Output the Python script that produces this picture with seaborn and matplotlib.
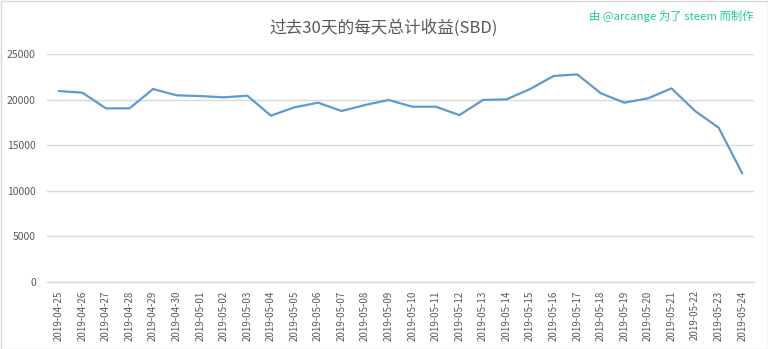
import matplotlib
matplotlib.use("Agg")
import matplotlib.pyplot as plt
import seaborn as sns
import pandas as pd
from matplotlib.patches import Rectangle

dates = ["2019-04-25", "2019-04-26", "2019-04-27", "2019-04-28", "2019-04-29", "2019-04-30",
         "2019-05-01", "2019-05-02", "2019-05-03", "2019-05-04", "2019-05-05", "2019-05-06",
         "2019-05-07", "2019-05-08", "2019-05-09", "2019-05-10", "2019-05-11", "2019-05-12",
         "2019-05-13", "2019-05-14", "2019-05-15", "2019-05-16", "2019-05-17", "2019-05-18",
         "2019-05-19", "2019-05-20", "2019-05-21", "2019-05-22", "2019-05-23", "2019-05-24"]
sbd = [20940, 20760, 19040, 19040, 21160, 20470,
       20390, 20250, 20430, 18240, 19150, 19660,
       18750, 19410, 19960, 19220, 19220, 18300,
       19960, 20030, 21160, 22590, 22770, 20690,
       19660, 20140, 21230, 18750, 16920, 11920]
yticks = [0, 5000, 10000, 15000, 20000, 25000]

title = "过去30天的每天总计收益(SBD)"
credit = "由 @arcange 为了 steem 而制作"

sns.set_theme(style="white")
plt.rcParams['font.family'] = ['Noto Sans CJK SC', 'DejaVu Sans']

df = pd.DataFrame({"date": dates, "sbd": sbd})
df["idx"] = range(len(dates))

fig = plt.figure(figsize=(7.68, 3.49), dpi=100)
ax = fig.add_axes([47/768, 1-282/349, (754-47)/768, (282-54)/349])

sns.lineplot(data=df, x="idx", y="sbd", ax=ax, color="#5B9BD5", linewidth=1.6)

ax.set_xlim(-0.5, len(dates)-0.5)
ax.set_ylim(0, 25000)
ax.set_yticks(yticks)
ax.set_yticklabels([str(v) for v in yticks], fontsize=7.5, color="#595959")
ax.set_xticks(range(len(dates)))
ax.set_xticklabels(dates, rotation=90, fontsize=7, color="#595959")
ax.tick_params(axis="both", length=0, pad=6)
ax.tick_params(axis="y", pad=8)
ax.grid(axis="y", color="#D9D9D9", linewidth=1)
ax.set_axisbelow(True)
for s in ["top", "right", "left"]:
    ax.spines[s].set_visible(False)
ax.spines["bottom"].set_color("#D9D9D9")
ax.spines["bottom"].set_linewidth(1)
ax.set_xlabel("")
ax.set_ylabel("")

fig.text(0.5, 1-28/349, title, ha="center", va="center", fontsize=12, color="#595959")
fig.text(754/768, 1-16/349, credit, ha="right", va="center", fontsize=8.2, color="#20C9A0")

fig.patches.append(Rectangle((0.5/768, 0.5/349), 1-1/768, 1-1/349, transform=fig.transFigure,
                             fill=False, edgecolor="#D9D9D9", linewidth=1))

fig.savefig("out.png", dpi=100)
